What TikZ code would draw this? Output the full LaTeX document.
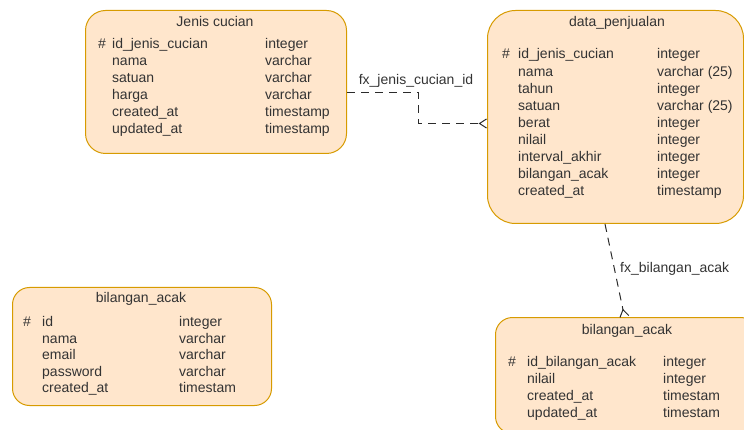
\documentclass[tikz,border=0pt]{standalone}
\usepackage{fontspec}
\setmainfont{Liberation Sans}
\usetikzlibrary{arrows.meta}
\definecolor{tblfill}{HTML}{FFE6CC}
\definecolor{tbldraw}{HTML}{D79B00}
\definecolor{ink}{HTML}{333333}
\definecolor{wire}{HTML}{2B2B2B}
\tikzset{
  tbl/.style={draw=tbldraw, fill=tblfill, line width=1pt, anchor=north west, inner sep=0pt},
  cell/.style={anchor=base west, inner sep=0pt, text=ink, font=\fontsize{14}{17}\selectfont},
  title/.style={anchor=base, inner sep=0pt, text=ink, font=\fontsize{14}{17}\selectfont},
  fk/.style={draw=wire, line width=1pt, dash pattern=on 8pt off 6pt,
    -{Straight Barb[reversed, length=7pt, width=9pt, line width=1pt]}},
}
\begin{document}
\begin{tikzpicture}[x=1pt, y=-1pt]
\useasboundingbox (0,0) rectangle (744,430);
\clip (0,0) rectangle (744,430);

% tables
\node[tbl, minimum width=261pt, minimum height=143pt, rounded corners=20pt] (jc) at (85,10) {};
\node[tbl, minimum width=256pt, minimum height=213pt, rounded corners=28pt] (dp) at (487,10) {};
\node[tbl, minimum width=259pt, minimum height=118pt, rounded corners=17pt] (ba1) at (12,287) {};
\node[tbl, minimum width=262pt, minimum height=116pt, rounded corners=17pt] (ba2) at (495,317) {};

% Jenis cucian
\node[title] (jc-t) at (215,26.5) {Jenis cucian};
\node[cell] (jc-k) at (98,48.5) {\#};
\foreach \nm/\ty [count=\i] in {id\_jenis\_cucian/integer, nama/varchar, satuan/varchar,
    harga/varchar, created\_at/timestamp, updated\_at/timestamp} {
  \node[cell] (jc-n\i) at (112,{48.5+17*(\i-1)}) {\nm};
  \node[cell] (jc-y\i) at (265,{48.5+17*(\i-1)}) {\ty};
}

% data_penjualan
\node[title] (dp-t) at (617,26.5) {data\_penjualan};
\node[cell] (dp-k) at (502,59) {\#};
\foreach \nm/\ty [count=\i] in {id\_jenis\_cucian/integer, nama/varchar (25), tahun/integer,
    satuan/varchar (25), berat/integer, nilail/integer, interval\_akhir/integer,
    bilangan\_acak/integer, created\_at/timestamp} {
  \node[cell] (dp-n\i) at (518,{59+17.1*(\i-1)}) {\nm};
  \node[cell] (dp-y\i) at (657,{59+17.1*(\i-1)}) {\ty};
}

% bilangan_acak (left)
\node[title] (ba1-t) at (141,302) {bilangan\_acak};
\node[cell] (ba1-k) at (23,326.5) {\#};
\foreach \nm/\ty [count=\i] in {id/integer, nama/varchar, email/varchar,
    password/varchar, created\_at/timestam} {
  \node[cell] (ba1-n\i) at (42,{326.5+16.6*(\i-1)}) {\nm};
  \node[cell] (ba1-y\i) at (179,{326.5+16.6*(\i-1)}) {\ty};
}

% bilangan_acak (right)
\node[title] (ba2-t) at (627,334.5) {bilangan\_acak};
\node[cell] (ba2-k) at (508,366.5) {\#};
\foreach \nm/\ty [count=\i] in {id\_bilangan\_acak/integer, nilail/integer,
    created\_at/timestam, updated\_at/timestam} {
  \node[cell] (ba2-n\i) at (527,{366.5+17*(\i-1)}) {\nm};
  \node[cell] (ba2-y\i) at (663,{366.5+17*(\i-1)}) {\ty};
}

% foreign keys
\draw[fk] ([yshift=-10.5pt]jc.east) -- ++(71,0) |- ([yshift=-6.5pt]dp.west);
\node[title] (fk1) at (416,84.5) {fx\_jenis\_cucian\_id};

\draw[fk] ([xshift=-10.5pt]dp.south) -- ([xshift=-2pt]ba2.north);
\node[cell] (fk2) at (620,272.5) {fx\_bilangan\_acak};
\end{tikzpicture}
\end{document}
